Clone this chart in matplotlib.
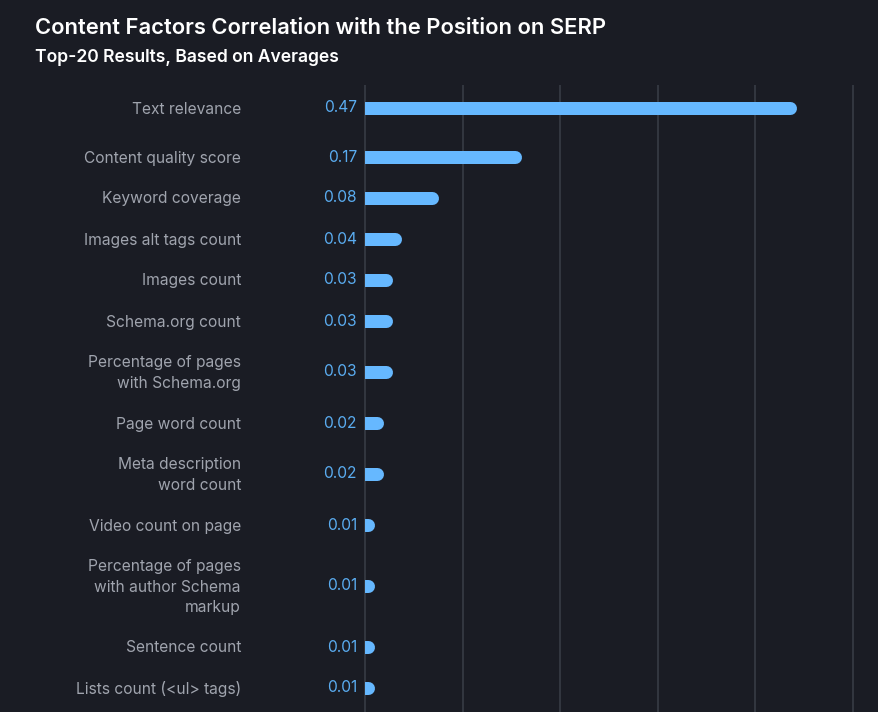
import matplotlib
matplotlib.use("Agg")
import matplotlib.pyplot as plt
import matplotlib.transforms as mtransforms
from matplotlib.patches import Rectangle
import numpy as np

# ---------------- data ----------------
categories = [
    "Text relevance",
    "Content quality score",
    "Keyword coverage",
    "Images alt tags count",
    "Images count",
    "Schema.org count",
    "Percentage of pages\nwith Schema.org",
    "Page word count",
    "Meta description\nword count",
    "Video count on page",
    "Percentage of pages\nwith author Schema\nmarkup",
    "Sentence count",
    "Lists count (<ul> tags)",
]
values = [0.47, 0.17, 0.08, 0.04, 0.03, 0.03, 0.03, 0.02, 0.02, 0.01, 0.01, 0.01, 0.01]
value_labels = ["0.47", "0.17", "0.08", "0.04", "0.03", "0.03", "0.03", "0.02", "0.02",
                "0.01", "0.01", "0.01", "0.01"]
title = "Content Factors Correlation with the Position on SERP"
subtitle = "Top-20 Results, Based on Averages"

# ---------------- style ----------------
W, H, DPI = 879, 712, 100
BG = "#1a1c24"
BAR = "#66b8ff"
VAL = "#5aacf0"
LAB = "#a0a4ae"
GRID = "#3a3e48"
px_per_unit = 919.0
zero_px = 365
ax_left_px, ax_right_px = 268, 879
ax_top_px, ax_bot_px = 85, 712
grid_step = 0.1062
bar_h_px = 13

fig = plt.figure(figsize=(W / DPI, H / DPI), dpi=DPI, facecolor=BG)
ax = fig.add_axes([ax_left_px / W, 1 - ax_bot_px / H,
                   (ax_right_px - ax_left_px) / W, (ax_bot_px - ax_top_px) / H])
ax.set_facecolor(BG)
for s in ax.spines.values():
    s.set_visible(False)
ax.set_xticks([])
ax.set_yticks([])

xmin = (ax_left_px - zero_px) / px_per_unit
xmax = (ax_right_px - zero_px) / px_per_unit
ax.set_xlim(xmin, xmax)
ax_h = ax_bot_px - ax_top_px
ax.set_ylim(ax_h, 0)

# row positions (y in pixels from axes top) based on label line counts
lines = [c.count("\n") + 1 for c in categories]
heights = [21 + 20 * n for n in lines]
heights[0] += 16
ys = [108 - ax_top_px]
for i in range(1, len(categories)):
    ys.append(ys[-1] + (heights[i - 1] + heights[i]) / 2)

# gridlines
for k in range(-1, 6):
    ax.axvline(k * grid_step, color=GRID, lw=1.1, zorder=0)

# bars with rounded right end
r_data = (bar_h_px / 2) / px_per_unit
lw_pt = bar_h_px * 72 / DPI
clip = Rectangle((0, -1000), 10, 5000, transform=ax.transData)
for y, v in zip(ys, values):
    ln, = ax.plot([0, max(v - r_data, 0)], [y, y], color=BAR, lw=lw_pt,
                  solid_capstyle="round", zorder=3)
    ln.set_clip_path(clip)

# value labels
off = mtransforms.offset_copy(ax.transData, fig=fig, x=-8, y=0, units="dots")
for y, lab in zip(ys, value_labels):
    ax.text(0, y, lab, transform=off, ha="right", va="center", color=VAL,
            fontsize=11.2, family=["Inter", "DejaVu Sans"])

# category labels
bt = mtransforms.blended_transform_factory(fig.transFigure, ax.transData)
for y, c in zip(ys, categories):
    ax.text(241 / W, y + 1, c, transform=bt, ha="right", va="center", color=LAB,
            fontsize=11.2, family=["Inter", "DejaVu Sans"], linespacing=1.45,
            multialignment="right")

fig.text(35 / W, 1 - 28 / H, title, ha="left", va="center", color="white",
         fontsize=15.8, fontweight="semibold", family=["Inter", "DejaVu Sans"])
fig.text(35 / W, 1 - 58 / H, subtitle, ha="left", va="center", color="white",
         fontsize=12.6, fontweight="semibold", family=["Inter", "DejaVu Sans"])

fig.savefig("out.png", dpi=DPI, facecolor=BG)
